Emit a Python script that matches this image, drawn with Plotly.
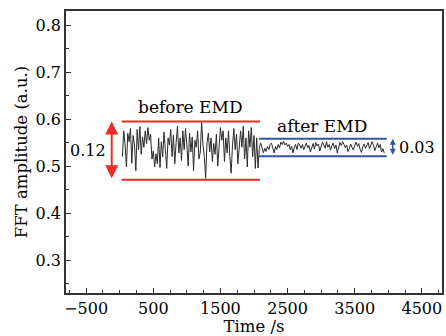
import numpy as np
import plotly.graph_objects as go

# ---- data ----
time_before = list(range(40, 2081, 20))
amp_before = [
    0.520, 0.575, 0.545, 0.498, 0.570, 0.552, 0.580, 0.506, 0.565, 0.545,
    0.490, 0.578, 0.535, 0.584, 0.525, 0.562, 0.540, 0.575, 0.548, 0.582,
    0.555, 0.568, 0.515, 0.532, 0.498, 0.526, 0.505, 0.560, 0.497, 0.552,
    0.520, 0.572, 0.535, 0.495, 0.560, 0.545, 0.578, 0.520, 0.566, 0.505,
    0.550, 0.585, 0.528, 0.560, 0.512, 0.575, 0.535, 0.580, 0.545, 0.500,
    0.570, 0.530, 0.562, 0.490, 0.555, 0.540, 0.575, 0.515, 0.530, 0.593,
    0.545, 0.520, 0.474, 0.550, 0.570, 0.530, 0.560, 0.510, 0.548, 0.525,
    0.568, 0.500, 0.540, 0.582, 0.555, 0.575, 0.510, 0.560, 0.528, 0.575,
    0.520, 0.485, 0.545, 0.580, 0.535, 0.568, 0.505, 0.552, 0.575, 0.540,
    0.585, 0.515, 0.560, 0.498, 0.575, 0.540, 0.582, 0.520, 0.565, 0.495,
    0.560, 0.496, 0.540,
]
time_after = list(range(2100, 3941, 20))
amp_after = [
    0.549, 0.540, 0.528, 0.538, 0.531, 0.542, 0.535, 0.546, 0.549, 0.538,
    0.528, 0.542, 0.535, 0.546, 0.539, 0.551, 0.546, 0.553, 0.545, 0.549,
    0.542, 0.546, 0.535, 0.542, 0.528, 0.539, 0.546, 0.535, 0.549, 0.545,
    0.538, 0.546, 0.535, 0.542, 0.549, 0.539, 0.544, 0.530, 0.541, 0.548,
    0.536, 0.550, 0.543, 0.547, 0.532, 0.540, 0.551, 0.545, 0.538, 0.552,
    0.540, 0.546, 0.534, 0.543, 0.549, 0.537, 0.545, 0.528, 0.541, 0.550,
    0.544, 0.552, 0.546, 0.539, 0.545, 0.531, 0.538, 0.547, 0.540, 0.534,
    0.544, 0.551, 0.542, 0.548, 0.536, 0.529, 0.541, 0.547, 0.538, 0.545,
    0.550, 0.537, 0.543, 0.552, 0.544, 0.533, 0.541, 0.549, 0.539, 0.546,
    0.530, 0.537, 0.528,
]
before_span = [30, 2090]
before_levels = [0.595, 0.471]
after_span = [2075, 3977]
after_levels = [0.558, 0.521]
before_label, after_label = "before EMD", "after EMD"
before_diff, after_diff = "0.12", "0.03"
x_ticks = [-500, 500, 1500, 2500, 3500, 4500]
y_ticks = [0.3, 0.4, 0.5, 0.6, 0.7, 0.8]

RED = "#ee2a24"
BLUE = "#2f54a8"
FONT = "DejaVu Serif"

fig = go.Figure()
fig.add_trace(go.Scatter(x=time_before + time_after, y=amp_before + amp_after,
                         mode="lines", line=dict(color="#2a2a2a", width=1),
                         showlegend=False, hoverinfo="skip"))
for lv in before_levels:
    fig.add_trace(go.Scatter(x=before_span, y=[lv, lv], mode="lines",
                             line=dict(color=RED, width=2), showlegend=False))
for lv in after_levels:
    fig.add_trace(go.Scatter(x=after_span, y=[lv, lv], mode="lines",
                             line=dict(color=BLUE, width=2), showlegend=False))

# double arrows
fig.add_annotation(x=-119, y=before_levels[0], ax=-119, ay=before_levels[1],
                   xref="x", yref="y", axref="x", ayref="y", text="",
                   showarrow=True, arrowhead=2, startarrowhead=2, arrowside="end+start",
                   arrowsize=1.3, startarrowsize=1.3, arrowwidth=2, arrowcolor=RED)
fig.add_annotation(x=4066, y=after_levels[0], ax=4066, ay=after_levels[1],
                   xref="x", yref="y", axref="x", ayref="y", text="",
                   showarrow=True, arrowhead=2, startarrowhead=2, arrowside="end+start",
                   arrowsize=0.8, startarrowsize=0.8, arrowwidth=1.5, arrowcolor=BLUE)

fig.add_annotation(x=-472, y=0.533, text=before_diff, showarrow=False,
                   font=dict(family=FONT, size=16, color="black"))
fig.add_annotation(x=4423, y=0.540, text=after_diff, showarrow=False,
                   font=dict(family=FONT, size=16, color="black"))
fig.add_annotation(x=1047, y=0.625, text=before_label, showarrow=False,
                   font=dict(family=FONT, size=17, color="black"))
fig.add_annotation(x=3008, y=0.585, text=after_label, showarrow=False,
                   font=dict(family=FONT, size=17, color="black"))

axis_common = dict(showline=True, linecolor="#333333", linewidth=1.5, mirror=True,
                   showgrid=False, zeroline=False, ticks="inside", ticklen=5,
                   tickwidth=1.2, tickcolor="#333333", automargin=False,
                   tickfont=dict(family=FONT, size=16, color="black"))
fig.update_xaxes(range=[-800, 4800], tickvals=x_ticks,
                 minor=dict(dtick=250, tick0=0, ticks="inside", ticklen=3,
                            tickcolor="#333333", tickwidth=1),
                 title=dict(text="Time /s", font=dict(family=FONT, size=16.5, color="black"),
                            standoff=0),
                 **axis_common)
fig.update_yaxes(range=[0.23, 0.83], tickvals=y_ticks, tickformat=".1f",
                 minor=dict(dtick=0.05, tick0=0, ticks="inside", ticklen=3,
                            tickcolor="#333333", tickwidth=1),
                 title=dict(text="FFT amplitude (a.u.)",
                            font=dict(family=FONT, size=16.5, color="black"), standoff=4),
                 **axis_common)
fig.update_layout(width=446, height=336,
                  margin=dict(l=66, r=4, t=11, b=43, autoexpand=False),
                  plot_bgcolor="white", paper_bgcolor="white")
fig.write_html("out.html", config={"displayModeBar": False},
               post_script="document.body.style.margin='0';document.body.style.overflow='hidden';")
